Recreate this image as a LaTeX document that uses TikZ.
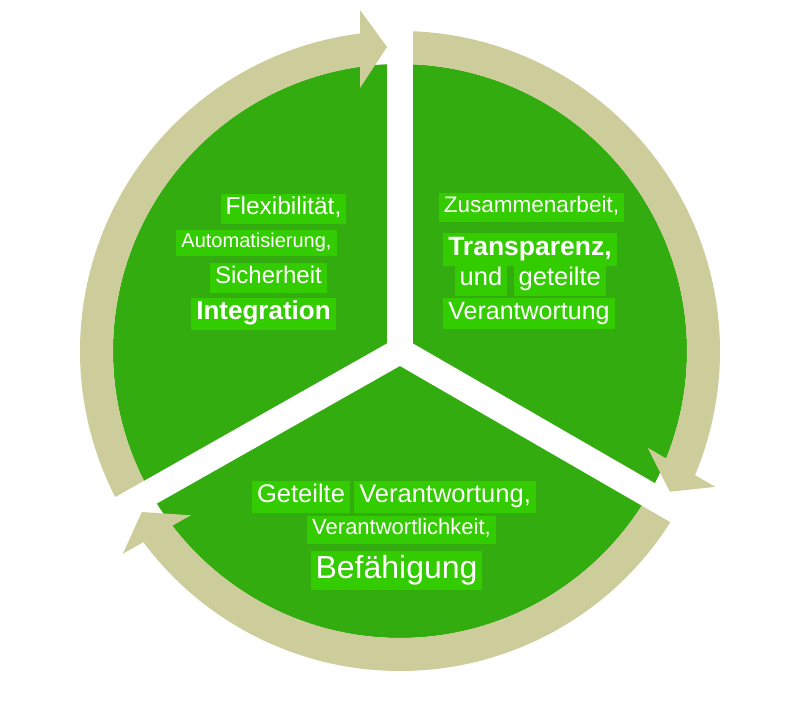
\documentclass[tikz,border=0pt]{standalone}
\usepackage{fontspec}
\setmainfont{Liberation Sans}
\usepackage{tikz}
\usetikzlibrary{positioning}
\definecolor{sectorgreen}{RGB}{50,172,14}
\definecolor{ringbeige}{RGB}{205,204,155}
\definecolor{labelgreen}{RGB}{51,204,0}

\begin{document}
\begin{tikzpicture}[x=1pt, y=1pt,
        ringarc/.style={draw=ringbeige, line width=33pt},
        ringhead/.style={fill=ringbeige},
        gapband/.style={draw=white, line width=26pt},
        lbl/.style={fill=labelgreen, text=white, inner xsep=5pt, inner ysep=1.5pt, font=\fontsize{#1}{#1}\selectfont, text height=0.8*#1, text depth=0.32*#1, anchor=base}]
    \useasboundingbox (-400,-352) rectangle (400,351);
    \fill [sectorgreen] (0,0) circle [radius=287];

    % ring arrows, one per third
    \begin{scope}
        \draw [ringarc] (95:303.5) arc [start angle=95, end angle=210, radius=303.5];
        \fill [ringhead] (-40,263) -- (-13,304) -- (-40,341) -- cycle;
    \end{scope}
    \begin{scope}[rotate=-120]
        \draw [ringarc] (95:303.5) arc [start angle=95, end angle=210, radius=303.5];
        \fill [ringhead] (-40,263) -- (-13,304) -- (-40,341) -- cycle;
    \end{scope}
    \begin{scope}[rotate=119.5]
        \draw [ringarc] (95:303.5) arc [start angle=95, end angle=210, radius=303.5];
        \fill [ringhead] (-40,263) -- (-13,304) -- (-40,341) -- cycle;
    \end{scope}

    % white gaps between the thirds
    \draw [gapband] (0,0) -- (90:370);
    \draw [gapband] (0,0) -- (-30:370);
    \draw [gapband] (0,0) -- (209.5:370);

    % left third
    \node [lbl=24.5] (flex) at (-116.5,136) {Flexibilität,};
    \node [lbl=20] (auto) at (-143.5,103) {Automatisierung,};
    \node [lbl=24] (sich) at (-131.5,67) {Sicherheit};
    \node [lbl=26, font=\fontsize{26}{26}\selectfont\bfseries] (integ) at (-136.5,31) {Integration};

    % right third
    \node [lbl=22.5] (zus) at (131.5,138) {Zusammenarbeit,};
    \node [lbl=26.5, font=\fontsize{26.5}{26.5}\selectfont\bfseries] (trans) at (130,95) {Transparenz,};
    \node [lbl=25.5] (und) at (81,65) {und};
    \node [lbl=25.5, right=6pt of und] (geteilt) {geteilte};
    \node [lbl=25] (verantw) at (129,31) {Verantwortung};

    % bottom third
    \node [lbl=25.5] (geteilte) at (-99,-152) {Geteilte};
    \node [lbl=25.5, right=4pt of geteilte] (verantwb) {Verantwortung,};
    \node [lbl=22] (verantl) at (1.5,-184) {Verantwortlichkeit,};
    \node [lbl=32] (befaeh) at (-3.5,-227) {Befähigung};
\end{tikzpicture}
\end{document}
